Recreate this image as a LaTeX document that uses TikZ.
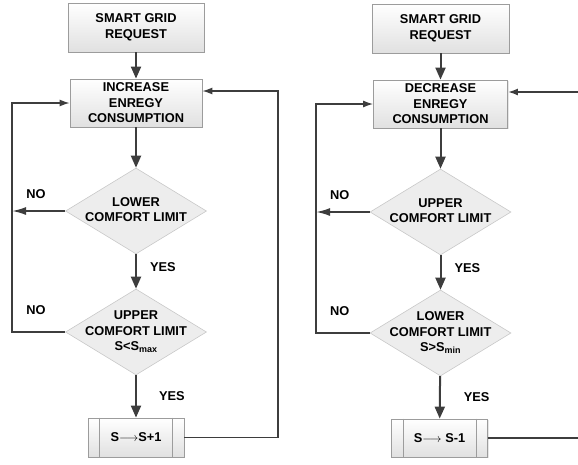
\documentclass[tikz,border=0pt]{standalone}
\usepackage{fontspec}
\setmainfont{Liberation Sans}
\usepackage{xcolor}
\usetikzlibrary{positioning,calc,arrows.meta,shapes.geometric,shadows}

\definecolor{flowline}{HTML}{3D3D3D}
\definecolor{boxedge}{HTML}{9C9C9C}
\definecolor{diaedge}{HTML}{C8C8C8}
\definecolor{diafill}{HTML}{EDEDED}

% text of a decision node, kept narrow so the diamond size is set by hand
\newcommand{\dtext}[1]{\makebox[0pt]{\begin{tabular}{@{}c@{}}#1\end{tabular}}}

\begin{document}
\begin{tikzpicture}[
    x=1pt,
    y=-1pt,
    font=\fontsize{12.8}{15.5}\selectfont\bfseries,
    stepbox/.style={draw=boxedge, line width=0.8pt, top color=white, bottom color=black!12,
        align=center, inner sep=0pt,
        drop shadow={shadow xshift=1pt, shadow yshift=-1pt, opacity=0.2}},
    decision/.style={diamond, draw=diaedge, line width=0.6pt, fill=diafill, inner sep=0pt,
        minimum width=141pt, minimum height=86pt},
    flow/.style={line width=2pt, draw=flowline, -{Triangle[length=12pt, width=10pt]}},
    noarrow/.style={line width=1.8pt, draw=flowline, -{Latex[length=14pt, width=8pt]}},
    loopline/.style={line width=1.3pt, draw=flowline, -{Latex[length=10pt, width=7pt]}},
    answer/.style={inner sep=0pt}
]

\useasboundingbox (0,0) rectangle (578,464);

% Left chart: raise consumption
\node[stepbox, minimum width=136pt, minimum height=49pt] (reqL) at (136,27.5) {SMART GRID\\REQUEST};
\node[stepbox, minimum width=132pt, minimum height=48pt] (incL) at (136,103) {INCREASE\\ENREGY\\CONSUMPTION};
\node[decision] (lowL) at (136,211) {\dtext{LOWER\\COMFORT LIMIT}};
\node[decision] (uppL) at (136,332) {\dtext{UPPER\\COMFORT LIMIT\\S<S\textsubscript{max}}};
\node[stepbox, minimum width=96pt, minimum height=39pt] (addL) at (136,437.5) {S$\longrightarrow$S+1};

% Right chart: lower consumption
\node[stepbox, minimum width=137pt, minimum height=49pt] (reqR) at (440.5,28.5) {SMART GRID\\REQUEST};
\node[stepbox, minimum width=134pt, minimum height=48pt] (decR) at (440.5,104) {DECREASE\\ENREGY\\CONSUMPTION};
\node[decision] (uppR) at (440.5,212) {\dtext{UPPER\\COMFORT LIMIT}};
\node[decision] (lowR) at (440.5,333) {\dtext{LOWER\\COMFORT LIMIT\\S>S\textsubscript{min}}};
\node[stepbox, minimum width=96pt, minimum height=38pt] (subR) at (439.5,438) {S$\longrightarrow$ S-1};

% side bars of the process boxes
\foreach \n in {addL,subR}{
    \draw[boxedge, line width=0.8pt] ([xshift=12pt]\n.north west) -- ([xshift=12pt]\n.south west);
    \draw[boxedge, line width=0.8pt] ([xshift=-12pt]\n.north east) -- ([xshift=-12pt]\n.south east);
}

% x positions of the return lines
\coordinate (sideL) at (12,0);
\coordinate (backL) at (278,0);
\coordinate (sideR) at (316,0);
\coordinate (edgeR) at (578,0);
\coordinate (incIn) at ([yshift=12pt]incL.east);
\coordinate (decIn) at ([yshift=12pt]decR.east);

% Main flow, left
\draw[flow] (reqL) -- (incL);
\draw[flow] (incL) -- (lowL);
\draw[flow] (lowL) -- (uppL) node[midway, right=13pt, yshift=4.5pt, answer] {YES};
\draw[flow] (uppL) -- (addL) node[midway, right=22pt, answer] {YES};

\draw[noarrow] (lowL.west) -- (lowL.west -| sideL) node[pos=0.55, above=11pt, answer] {NO};
\draw[loopline] (uppL.west) -- (uppL.west -| sideL) node[pos=0.55, above=16.5pt, answer] {NO} |- (incL.west);
\draw[loopline] (addL.east) -- (addL.east -| backL) -- (backL |- incIn) -- (incIn);

% Main flow, right
\draw[flow] (reqR) -- (decR);
\draw[flow] (decR) -- (uppR);
\draw[flow] (uppR) -- (lowR) node[midway, right=13pt, yshift=4.5pt, answer] {YES};
\draw[flow] (lowR) -- (subR) node[midway, right=23pt, answer] {YES};

\draw[noarrow] (uppR.west) -- (uppR.west -| sideR) node[pos=0.56, above=11pt, answer] {NO};
\draw[loopline] (lowR.west) -- (lowR.west -| sideR) node[pos=0.56, above=16.5pt, answer] {NO} |- (decR.west);
\draw[loopline, line width=1.8pt] (decIn -| edgeR) -- (decIn);
\draw[line width=1.3pt, draw=flowline] (subR.east) -- (subR.east -| edgeR);

\end{tikzpicture}
\end{document}
